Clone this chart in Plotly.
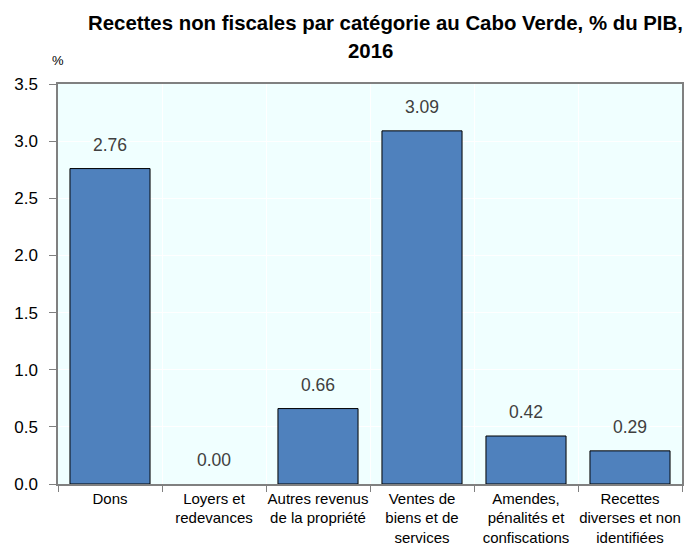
import plotly.graph_objects as go

categories = ["Dons", "Loyers et<br>redevances", "Autres revenus<br>de la propriété",
              "Ventes de<br>biens et de<br>services", "Amendes,<br>pénalités et<br>confiscations",
              "Recettes<br>diverses et non<br>identifiées"]
values = [2.76, 0.00, 0.66, 3.09, 0.42, 0.29]
y_ticks = [0.0, 0.5, 1.0, 1.5, 2.0, 2.5, 3.0, 3.5]
title_line1 = "Recettes non fiscales par catégorie au Cabo Verde, % du PIB,"
title_line2 = "2016"

font_main = "Liberation Sans, Arial, sans-serif"
bg = "#F0FFFF"

fig = go.Figure()
fig.add_trace(go.Bar(
    x=categories, y=values,
    marker=dict(color="#4F81BD",
                line=dict(color="black", width=[0 if v == 0 else 1 for v in values])),
    width=0.77,
    hoverinfo="skip",
))

for c, v in zip(categories, values):
    fig.add_annotation(x=c, y=v, text=f"{v:.2f}", showarrow=False,
                       yanchor="bottom", yshift=11,
                       font=dict(family=font_main, size=17.5, color="#404040"),
                       bgcolor=bg, borderpad=2)

fig.add_annotation(xref="paper", yref="paper", x=0.0, y=1, yshift=14, text="%",
                   showarrow=False, xanchor="center", yanchor="bottom",
                   font=dict(family=font_main, size=13, color="black"))

fig.add_annotation(xref="paper", yref="paper", x=(385 - 58) / 624, y=1, yshift=48,
                   text=f"<b>{title_line1}</b>",
                   showarrow=False, xanchor="center", yanchor="bottom",
                   font=dict(family=font_main, size=20.4, color="black"))
fig.add_annotation(xref="paper", yref="paper", x=(370 - 58) / 624, y=1, yshift=20,
                   text=f"<b>{title_line2}</b>",
                   showarrow=False, xanchor="center", yanchor="bottom",
                   font=dict(family=font_main, size=20.4, color="black"))

fig.update_layout(
    width=686, height=548,
    margin=dict(l=58, r=4, t=84, b=64, autoexpand=False),
    paper_bgcolor="white", plot_bgcolor=bg,
    showlegend=False,
)
fig.update_xaxes(tickson="boundaries", ticks="outside", ticklen=6, tickcolor="#808080",
                 showgrid=True, gridcolor="white", gridwidth=1, automargin=False,
                 showline=True, linecolor="#808080", linewidth=1.5, mirror=True,
                 tickfont=dict(family=font_main, size=15, color="black"), tickangle=0)
fig.update_yaxes(range=[0, 3.5], tickvals=y_ticks, tickformat=".1f", automargin=False,
                 ticks="outside", ticklen=7, tickcolor="#808080", ticklabelstandoff=8,
                 showgrid=True, gridcolor="white", gridwidth=1, zeroline=False,
                 showline=True, linecolor="#808080", linewidth=1.5, mirror=True,
                 tickfont=dict(family=font_main, size=17, color="black"))

fig.write_html("out.html", config={"displayModeBar": False},
               post_script="document.body.style.margin='0';")
